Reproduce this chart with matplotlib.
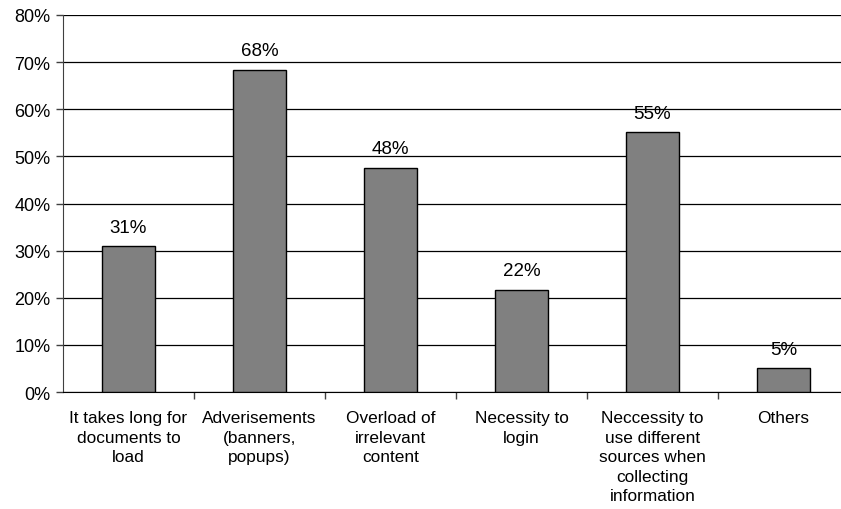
import matplotlib.pyplot as plt
import numpy as np

plt.rcParams['font.family'] = ['Liberation Sans', 'DejaVu Sans']

categories = ["It takes long for\ndocuments to\nload",
              "Adverisements\n(banners,\npopups)",
              "Overload of\nirrelevant\ncontent",
              "Necessity to\nlogin",
              "Neccessity to\nuse different\nsources when\ncollecting\ninformation",
              "Others"]
values = [30.9, 68.4, 47.6, 21.7, 55.1, 5.0]

fig = plt.figure(figsize=(8.41, 5.10), dpi=100)
# axes runs a little past the right edge of the figure
ax = fig.add_axes([63/841, 1-393/510, 786/841, 377/510])

x = np.arange(len(categories))
ax.bar(x, values, width=0.4, color='#808080', edgecolor='black', linewidth=1, zorder=3)
for xi, v in zip(x, values):
    ax.text(xi, v + 2.2, f"{v:.0f}%", ha='center', va='bottom', fontsize=13.5)

ax.set_xlim(-0.5, len(categories) - 0.5)
ax.set_ylim(0, 80)
ax.set_yticks(np.arange(0, 81, 10))
ax.set_yticklabels([f"{t}%" for t in range(0, 81, 10)], fontsize=13)
ax.yaxis.grid(True, color='black', linewidth=0.9, zorder=0)
ax.set_axisbelow(True)

# category labels centred, boundary ticks between categories
ax.set_xticks(x)
ax.set_xticklabels(categories, fontsize=12.4, linespacing=1.38)
ax.tick_params(axis='x', length=0, pad=13)
ax.set_xticks(np.arange(0.5, len(categories), 1), minor=True)
ax.tick_params(axis='x', which='minor', length=5, color='#404040', width=1)
ax.tick_params(axis='y', length=5, color='#404040', width=1, pad=4)

for s in ['top', 'right']:
    ax.spines[s].set_visible(False)
ax.spines['left'].set_color('#404040')
ax.spines['bottom'].set_color('black')

fig.savefig('out.png', dpi=100)
